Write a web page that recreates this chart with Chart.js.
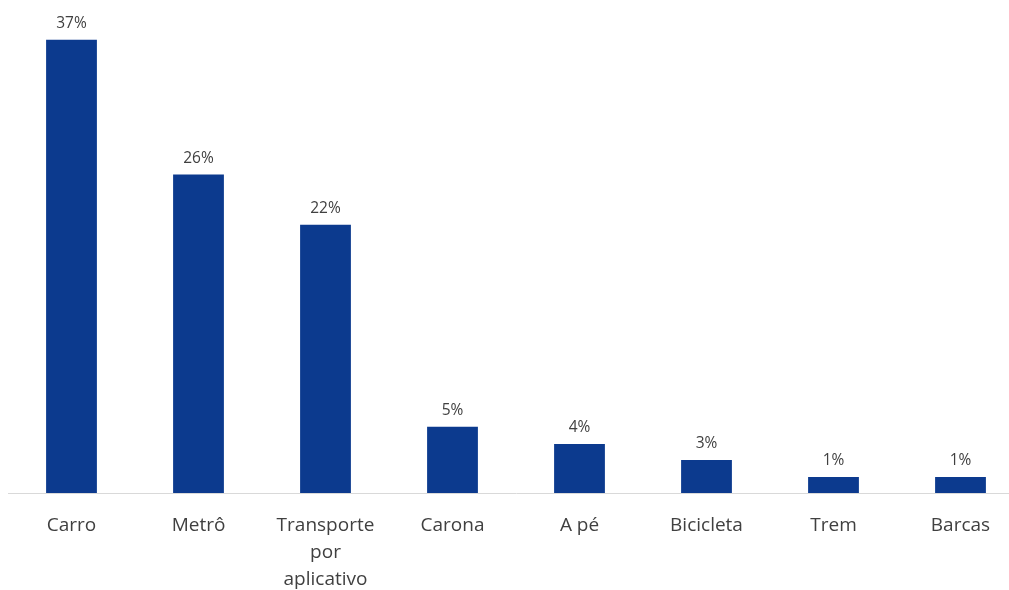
<!DOCTYPE html>
<html>
<head>
<meta charset="utf-8">
<script src="https://cdn.jsdelivr.net/npm/chart.js@4"></script>
<style>
  html, body { margin: 0; padding: 0; background: #fff; overflow: hidden; }
  #wrap { width: 1024px; height: 590px; position: relative; }
</style>
</head>
<body>
<div id="wrap"><canvas id="modal"></canvas></div>
<script>
// categorias e valores (%)
const categorias = ['Carro', 'Metrô', ['Transporte', 'por', 'aplicativo'], 'Carona', 'A pé', 'Bicicleta', 'Trem', 'Barcas'];
const percentuais = [37, 26, 21.9, 5.4, 4, 2.7, 1.3, 1.3];

// rótulos em cima de cada barra
const rotulosBarras = {
  id: 'rotulosBarras',
  afterDatasetsDraw(chart) {
    const ctx = chart.ctx;
    const meta = chart.getDatasetMeta(0);
    ctx.save();
    ctx.fillStyle = '#404040';
    ctx.font = '15.5px "Open Sans", sans-serif';
    ctx.textAlign = 'center';
    ctx.textBaseline = 'middle';
    meta.data.forEach((bar, i) => {
      ctx.fillText(Math.round(percentuais[i]) + '%', bar.x, bar.y - 16);
    });
    ctx.restore();
  },
};

new Chart(document.getElementById('modal'), {
  type: 'bar',
  data: {
    labels: categorias,
    datasets: [{ data: percentuais, backgroundColor: '#0c3a8e', categoryPercentage: 1, barPercentage: 0.4 }],
  },
  options: {
    responsive: true, maintainAspectRatio: false, animation: false,
    layout: { padding: { left: 8, top: 3, right: 0, bottom: 0 } },
    plugins: { legend: { display: false }, tooltip: { enabled: false } },
    scales: {
      x: {
        grid: { display: false, drawTicks: false },
        border: { color: '#d9d9d9', width: 1 },
        ticks: { color: '#404040', font: { family: '"Open Sans", sans-serif', size: 19, lineHeight: 1.42 }, padding: 19, maxRotation: 0, autoSkip: false },
        afterFit: (s) => { s.height = 97; },
      },
      y: { display: false, min: 0, max: 40 },
    },
  },
  plugins: [rotulosBarras],
});
</script>
</body>
</html>
